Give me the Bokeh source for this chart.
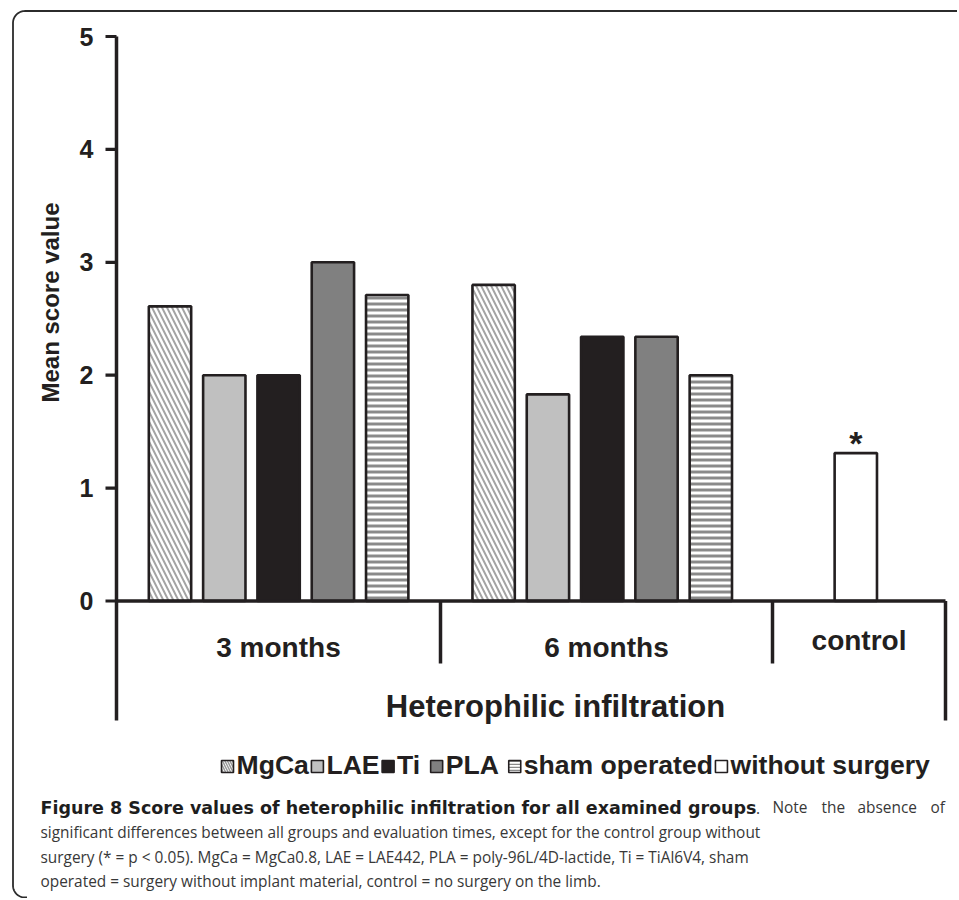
import numpy as np
from bokeh.plotting import figure
from bokeh.models import Range1d
from bokeh.core.properties import value
from bokeh.embed import file_html
from bokeh.resources import INLINE

# ---------------- data ----------------
periods = ["3 months", "6 months", "control"]
mgca = [2.61, 2.80]
lae = [2.0, 1.83]
ti = [2.0, 2.34]
pla = [3.0, 2.34]
sham = [2.71, 2.0]
without_surgery = [1.31]
y_ticks = [0, 1, 2, 3, 4, 5]
y_title = "Mean score value"
x_title = "Heterophilic infiltration"
legend_labels = ["MgCa", "LAE", "Ti", "PLA", "sham operated", "without surgery"]
significance = "*"
caption_bold = "Figure 8 Score values of heterophilic infiltration for all examined groups"
caption_tail_words = [".", "Note", "the", "absence", "of"]
caption_lines = [
    "significant differences between all groups and evaluation times, except for the control group without",
    "surgery (* = p < 0.05). MgCa = MgCa0.8, LAE = LAE442, PLA = poly-96L/4D-lactide, Ti = TiAl6V4, sham",
    "operated = surgery without implant material, control = no surgery on the limb.",
]

# ---------------- layout ----------------
W, H = 957, 898
OX, OY = 0, 0
X0, SX = 169.5, 54.3     # page x of slot 0, px per slot
Y0, SY = 600.5, 112.9    # page y of value 0, px per unit


def xd(X):
    return (X - X0) / SX


def yd(Y):
    return (Y0 - Y) / SY


INK = "#231f20"
FONT = value("Liberation Sans")
CAP_FONT = value("Open Sans")

p = figure(width=W, height=H,
           x_range=Range1d(xd(OX), xd(OX + W)),
           y_range=Range1d(yd(OY + H), yd(OY)),
           x_axis_location=None, y_axis_location=None,
           output_backend="svg", toolbar_location=None, min_border=0)
p.grid.visible = False
p.outline_line_color = None
p.background_fill_color = "white"
p.border_fill_color = "white"

# rounded frame (left/top/bottom edges)
r = 12
top_y, left_x, bot_y = 10.5, 12.5, 897
th = np.linspace(np.pi / 2, np.pi, 20)
arc_x = left_x + r + r * np.cos(th)
arc_y = top_y + r - r * np.sin(th)
th2 = np.linspace(np.pi, 1.5 * np.pi, 20)
arc2_x = left_x + r + r * np.cos(th2)
arc2_y = bot_y - r - r * np.sin(th2)
fx = np.concatenate([[OX + W], arc_x, arc2_x, [left_x + r + 2]])
fy = np.concatenate([[top_y], arc_y, arc2_y, [bot_y]])
p.line([xd(v) for v in fx], [yd(v) for v in fy], line_color="#2b2b2b", line_width=1.8)

# ---------------- bars ----------------
group_start = [0.0, 5.96]
control_x = 12.63
BW = 0.78
series = [mgca, lae, ti, pla, sham]
styles = [
    dict(fill_color="white", hatch_pattern="\\", hatch_color="#a4a4a4", hatch_weight=2.0, hatch_scale=10),
    dict(fill_color="#c0c0c0"),
    dict(fill_color=INK),
    dict(fill_color="#808080"),
    dict(fill_color="white", hatch_pattern="-", hatch_color="#8a8a8a", hatch_weight=3, hatch_scale=6),
]
for gi, vals in enumerate(series):
    xs = [group_start[k] + gi for k in range(len(vals))]
    p.vbar(x=xs, top=vals, bottom=0, width=BW, line_color=INK, line_width=2.6, **styles[gi])
p.vbar(x=[control_x], top=without_surgery, bottom=0, width=BW, fill_color="white",
       line_color=INK, line_width=2.6)
p.text(x=[control_x], y=[without_surgery[0] + 0.09], text=[significance],
       text_font=FONT, text_font_style="bold", text_font_size=value("34px"),
       text_align="center", text_baseline="middle", text_color=INK)

# ---------------- axes drawn in data space ----------------
ax_left = xd(116)
ax_right = xd(945)
ax_bottom = yd(720)
sep1, sep2 = xd(440), xd(772)
p.segment(x0=[ax_left], y0=[ax_bottom], x1=[ax_left], y1=[y_ticks[-1]], line_color=INK, line_width=3.5)
p.segment(x0=[xd(105)] * len(y_ticks), y0=y_ticks, x1=[ax_left] * len(y_ticks), y1=y_ticks,
          line_color=INK, line_width=3.2)
p.text(x=[xd(93)] * len(y_ticks), y=y_ticks, text=[str(t) for t in y_ticks],
       text_font=FONT, text_font_style="bold", text_font_size=value("25px"),
       text_align="right", text_baseline="middle", text_color=INK)
p.segment(x0=[ax_left], y0=[0], x1=[ax_right], y1=[0], line_color=INK, line_width=3.5)
sep_bottom = yd(663)
p.segment(x0=[sep1, sep2, ax_right], y0=[0, 0, 0], x1=[sep1, sep2, ax_right],
          y1=[sep_bottom, sep_bottom, ax_bottom], line_color=INK, line_width=3.5)

cat_x = [(ax_left + sep1) / 2, (sep1 + sep2) / 2, (sep2 + ax_right) / 2]
cat_y = [yd(647), yd(647), yd(640)]
p.text(x=cat_x, y=cat_y, text=periods, text_font=FONT, text_font_style="bold",
       text_font_size=value("28px"), text_align="center", text_baseline="middle", text_color=INK)

p.text(x=[xd(555)], y=[yd(706)], text=[x_title], text_font=FONT, text_font_style="bold",
       text_font_size=value("31px"), text_align="center", text_baseline="middle", text_color=INK)
p.text(x=[xd(50)], y=[yd(302)], text=[y_title], angle=np.pi / 2, text_font=FONT,
       text_font_style="bold", text_font_size=value("24px"), text_align="center",
       text_baseline="middle", text_color=INK)

# ---------------- legend ----------------
AW = {" ": 278, "M": 833, "g": 611, "C": 722, "a": 556, "L": 611, "A": 722, "E": 667,
      "T": 611, "i": 278, "P": 667, "s": 556, "h": 611, "m": 889, "o": 611, "p": 611,
      "e": 556, "r": 389, "t": 333, "d": 611, "w": 778, "u": 611, "y": 556}
LFS = 26.6
SQ = 12
lg_text = [lab + (" " if lab in ("Ti", "PLA") else "") for lab in legend_labels]
cur = 221.0
sq_x, tx_x = [], []
for lab in lg_text:
    sq_x.append(cur + SQ / 2)
    cur += SQ + 3
    tx_x.append(cur)
    cur += sum(AW[c] for c in lab) / 1000 * LFS + 2.5
ly = yd(764)
sq_y = yd(766)
leg_styles = [
    dict(fill_color="white", hatch_pattern="\\", hatch_color="#9a9a9a", hatch_weight=1.5, hatch_scale=5),
    dict(fill_color="#c0c0c0"),
    dict(fill_color=INK),
    dict(fill_color="#808080"),
    dict(fill_color="white", hatch_pattern="-", hatch_color="#8a8a8a", hatch_weight=1.5, hatch_scale=3),
    dict(fill_color="white"),
]
for i, st in enumerate(leg_styles):
    p.rect(x=[xd(sq_x[i])], y=[sq_y], width=SQ, height=SQ, width_units="screen", height_units="screen",
           line_color=INK, line_width=1.6, **st)
p.text(x=[xd(v) for v in tx_x], y=[ly] * len(legend_labels), text=legend_labels,
       text_font=FONT, text_font_style="bold", text_font_size=value(f"{LFS}px"),
       text_align="left", text_baseline="middle", text_color=INK)

# ---------------- caption ----------------
CFS = value("15.4px")
p.text(x=[xd(40)], y=[yd(807)], text=[caption_bold], text_font=value("DejaVu Sans"),
       text_font_style="bold", text_font_size=value("17.5px"), text_align="left",
       text_baseline="middle", text_color="#1e1e1e")
tail_x = [755.5, 772, 821, 857, 930]
p.text(x=[xd(v) for v in tail_x], y=[yd(807)] * len(tail_x), text=caption_tail_words,
       text_font=CAP_FONT, text_font_size=CFS, text_align="left", text_baseline="middle",
       text_color="#383838")
p.text(x=[xd(40)] * 3, y=[yd(832), yd(857), yd(881)], text=caption_lines, text_font=CAP_FONT,
       text_font_size=CFS, text_align="left", text_baseline="middle", text_color="#383838")

open("out.html", "w").write(file_html(p, INLINE))
